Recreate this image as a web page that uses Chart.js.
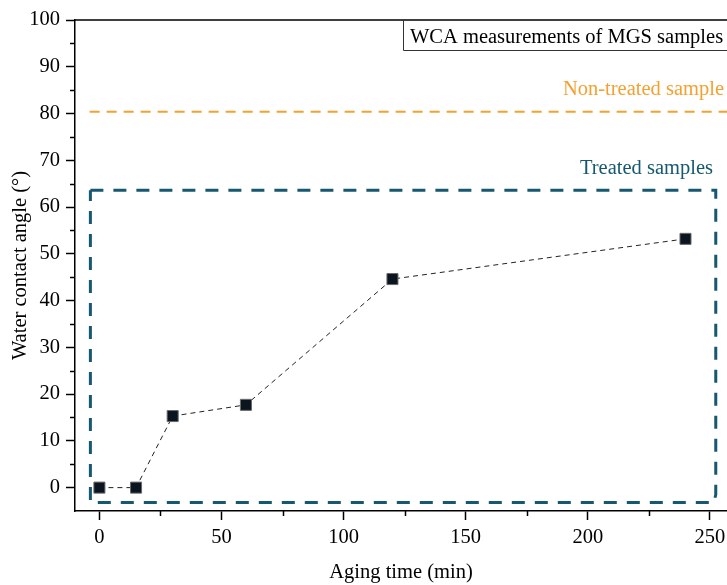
<!DOCTYPE html>
<html>
<head>
<meta charset="utf-8">
<script src="https://cdn.jsdelivr.net/npm/chart.js@4/dist/chart.umd.min.js"></script>
<style>
  html, body { margin: 0; padding: 0; background: #fff; }
  #wrap { position: relative; width: 727px; height: 585px; }
</style>
</head>
<body>
<div id="wrap"><canvas id="c" width="727" height="585"></canvas></div>
<script>
// Temps de vieillissement (min) et angle de contact mesuré (°)
var agingTimes   = [0, 15, 30, 60, 120, 240];
var contactAngle = [0, 0, 15.3, 17.7, 44.6, 53.2];

// Référence : échantillon non traité
var nonTreatedX  = [-4, 258];
var nonTreatedY  = [80.4, 80.4];

// Cadre "Treated samples"
var boxX = [-3.7, 252.4, 252.4, 251.6, -3.7, -3.7];
var boxY = [63.6, 63.6, -1.5, -3.2, -3.2, 63.6];

var xTicks = [0, 50, 100, 150, 200, 250];
var yTicks = [0, 10, 20, 30, 40, 50, 60, 70, 80, 90, 100];
var xMinor = [25, 75, 125, 175, 225];
var yMinor = [5, 15, 25, 35, 45, 55, 65, 75, 85, 95];

var FONT = "'Liberation Serif', 'Times New Roman', serif";
var ORANGE = '#F6A02F';
var TEAL = '#15586F';

Chart.defaults.font.family = FONT;
Chart.defaults.font.size = 20.5;
Chart.defaults.color = '#000';

function pts(xs, ys) {
    return xs.map(function (x, i) { return { x: x, y: ys[i] }; });
}

var extras = {
    id: 'extras',
    afterDraw: function (chart) {
        var ctx = chart.ctx;
        var area = chart.chartArea;
        var sx = chart.scales.x, sy = chart.scales.y;
        ctx.save();

        // ticks mineurs
        ctx.strokeStyle = '#000';
        ctx.lineWidth = 1.5;
        ctx.beginPath();
        yMinor.forEach(function (v) {
            var p = Math.round(sy.getPixelForValue(v)) + 0.5;
            ctx.moveTo(area.left - 5, p);
            ctx.lineTo(area.left, p);
        });
        xMinor.forEach(function (v) {
            var p = Math.round(sx.getPixelForValue(v)) + 0.5;
            ctx.moveTo(p, area.bottom);
            ctx.lineTo(p, area.bottom + 5);
        });
        // bord supérieur
        ctx.moveTo(area.left, area.top);
        ctx.lineTo(area.right + 5, area.top);
        ctx.stroke();

        // encadré titre
        ctx.fillStyle = '#fff';
        ctx.fillRect(404, area.top + 1, 330, 29);
        ctx.strokeStyle = '#333';
        ctx.lineWidth = 1;
        ctx.beginPath();
        ctx.moveTo(740, area.top + 30.5);
        ctx.lineTo(403.5, area.top + 30.5);
        ctx.lineTo(403.5, area.top);
        ctx.stroke();
        ctx.font = '20.5px ' + FONT;
        ctx.fillStyle = '#000';
        ctx.textBaseline = 'alphabetic';
        ctx.textAlign = 'left';
        ctx.fillText('WCA measurements of MGS samples', 410, area.top + 23);

        ctx.textAlign = 'right';
        ctx.fillStyle = ORANGE;
        ctx.fillText('Non-treated sample', 724, sy.getPixelForValue(nonTreatedY[0]) - 17);
        ctx.fillStyle = TEAL;
        ctx.fillText('Treated samples', 713, sy.getPixelForValue(boxY[0]) - 16);
        ctx.restore();
    }
};

new Chart(document.getElementById('c'), {
    type: 'scatter',
    data: {
        datasets: [
            {
                label: 'Non-treated',
                data: pts(nonTreatedX, nonTreatedY),
                showLine: true,
                borderColor: ORANGE,
                borderWidth: 2,
                borderDash: [10, 7],
                pointRadius: 0,
                fill: false
            },
            {
                label: 'Treated box',
                data: pts(boxX, boxY),
                showLine: true,
                borderColor: TEAL,
                borderWidth: 3,
                borderDash: [13, 10],
                pointRadius: 0,
                fill: false
            },
            {
                label: 'WCA',
                data: pts(agingTimes, contactAngle),
                showLine: true,
                borderColor: '#222',
                borderWidth: 1,
                borderDash: [5, 4],
                pointStyle: 'rect',
                pointRadius: 7.8,
                pointBackgroundColor: '#0a1520',
                pointBorderColor: '#6a6a6a',
                pointBorderWidth: 1,
                fill: false
            }
        ]
    },
    options: {
        responsive: false,
        animation: false,
        layout: {
            autoPadding: false,
            padding: { top: 20, right: 0, bottom: 0, left: 0 }
        },
        plugins: {
            legend: { display: false },
            tooltip: { enabled: false }
        },
        scales: {
            x: {
                type: 'linear',
                min: -10,
                max: 257,
                afterBuildTicks: function (s) {
                    s.ticks = xTicks.map(function (v) { return { value: v }; });
                },
                afterFit: function (s) {
                    s.height = 74;
                    s.paddingRight = 0;
                    s.paddingLeft = 0;
                },
                grid: {
                    drawOnChartArea: false,
                    drawTicks: true,
                    tickLength: 9,
                    tickColor: '#000',
                    tickWidth: 1.5
                },
                border: { display: true, color: '#000', width: 1.5 },
                ticks: {
                    color: '#000',
                    padding: 5,
                    maxRotation: 0,
                    font: { family: FONT, size: 20.5 }
                },
                title: {
                    display: true,
                    text: 'Aging time (min)',
                    color: '#000',
                    font: { family: FONT, size: 20.5, lineHeight: 1.2 },
                    padding: { top: 0, bottom: 0 }
                }
            },
            y: {
                type: 'linear',
                min: -5,
                max: 100,
                afterBuildTicks: function (s) {
                    s.ticks = yTicks.map(function (v) { return { value: v }; });
                },
                afterFit: function (s) { s.width = 75; },
                grid: {
                    drawOnChartArea: false,
                    drawTicks: true,
                    tickLength: 9,
                    tickColor: '#000',
                    tickWidth: 1.5
                },
                border: { display: true, color: '#000', width: 1.5 },
                ticks: {
                    color: '#000',
                    padding: 6,
                    font: { family: FONT, size: 20.5 }
                },
                title: {
                    display: true,
                    text: 'Water contact angle (°)',
                    color: '#000',
                    font: { family: FONT, size: 20.5, lineHeight: 1.2 },
                    padding: { top: 8, bottom: 0 }
                }
            }
        }
    },
    plugins: [extras]
});
</script>
</body>
</html>
